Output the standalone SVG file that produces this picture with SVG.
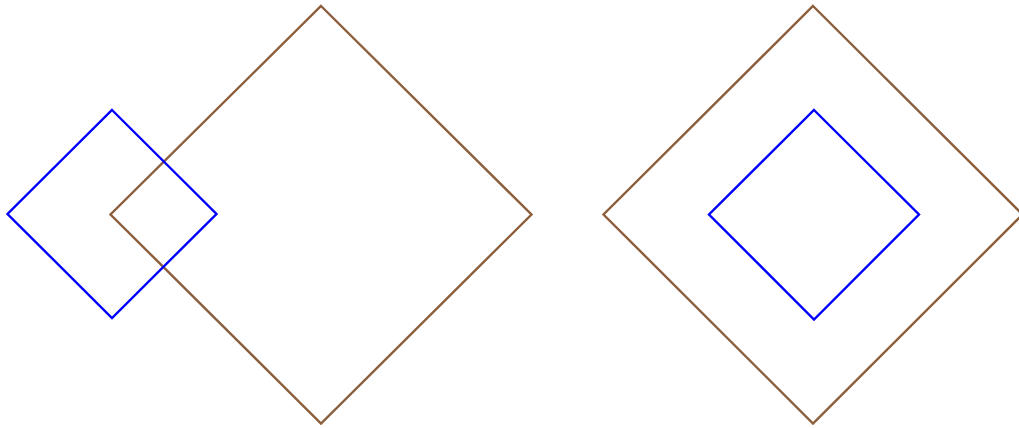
<svg xmlns="http://www.w3.org/2000/svg" width="1019" height="428" viewBox="0 0 1019 428">
<style>
.brown{fill:none;stroke:#8b5e3c;stroke-width:2.4}
.blue{fill:none;stroke:#0000ff;stroke-width:2.4}
</style>
<rect width="1019" height="428" fill="#ffffff"/>
<g id="left-brown"><polygon class="brown" points="321,6 531.5,214.5 321,423.5 110.5,214.5"/></g>
<g id="left-blue"><polygon class="blue" points="112,110 216.5,214 112,318 7.5,214"/></g>
<g id="right-brown"><polygon class="brown" points="813,6 1022.5,214.5 813,423.5 603.5,214.5"/></g>
<g id="right-blue"><polygon class="blue" points="814,110 919,214.5 814,319.5 709,214.5"/></g>
<g id="connectors"></g>
</svg>
